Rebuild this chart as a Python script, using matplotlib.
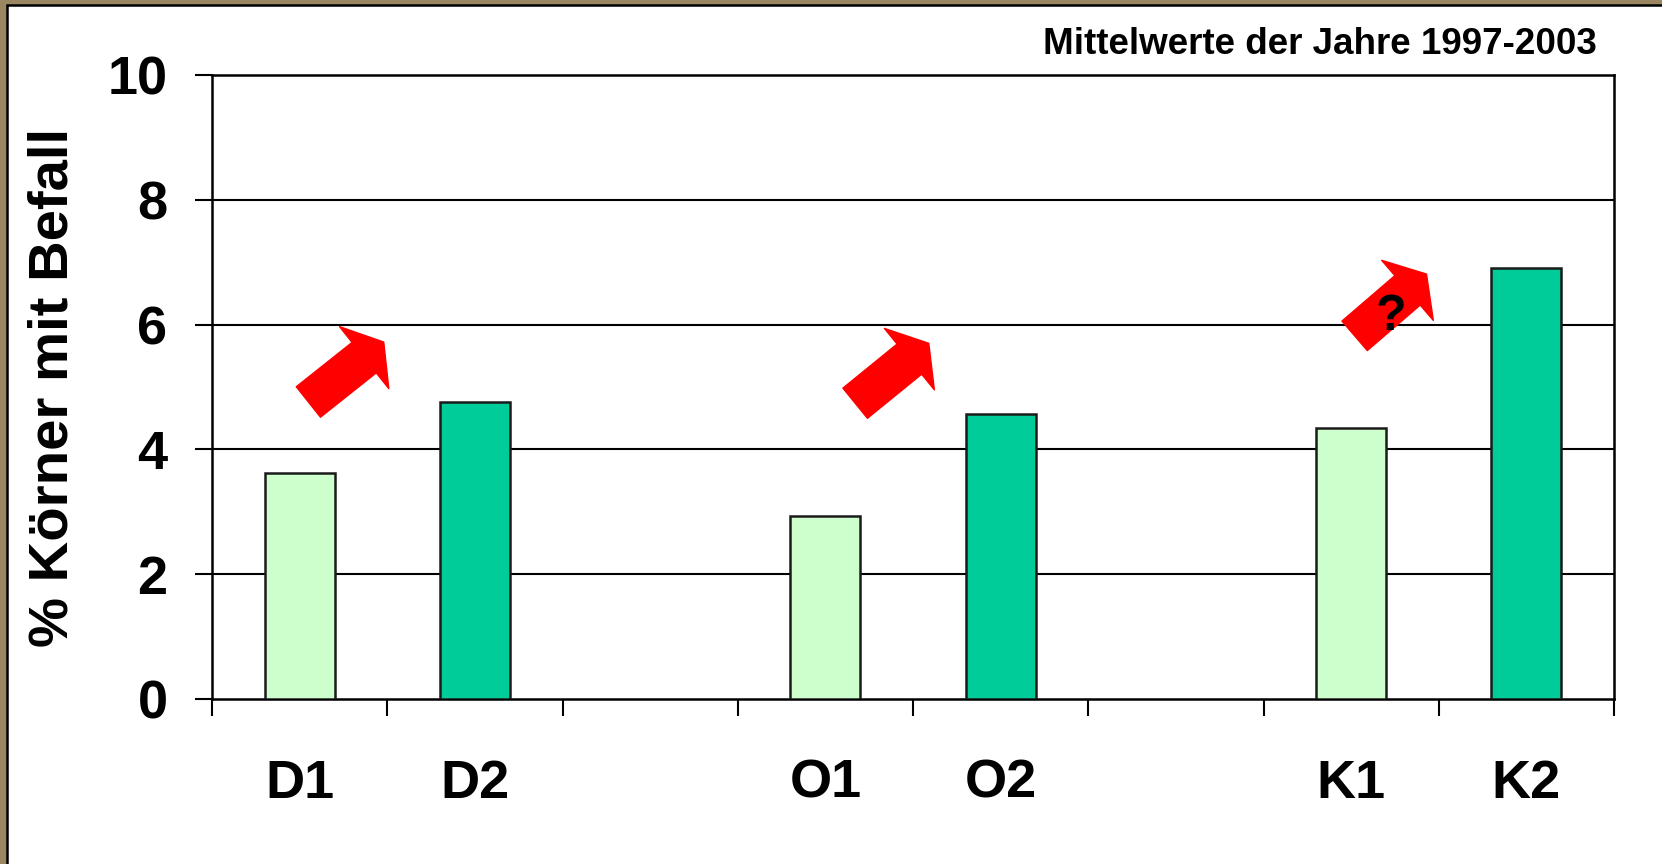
import matplotlib
matplotlib.use("Agg")
import matplotlib.pyplot as plt
from matplotlib.patches import Rectangle

plt.rcParams['font.family'] = ['Liberation Sans', 'DejaVu Sans']
plt.rcParams['font.weight'] = 'bold'

categories = ["D1", "D2", "", "O1", "O2", "", "K1", "K2"]
values = [3.62, 4.76, None, 2.93, 4.56, None, 4.35, 6.90]
bar_colors = ["#CCFFCC", "#00CC99", None, "#CCFFCC", "#00CC99", None, "#CCFFCC", "#00CC99"]
yticks = [0, 2, 4, 6, 8, 10]
title = "Mittelwerte der Jahre 1997-2003"
ylabel = "% Körner mit Befall"
# arrows: (base_x, base_y, tip_x, tip_y, label)
arrows = [(0.05, 4.76, 0.48, 5.72, ""),
          (3.17, 4.74, 3.59, 5.70, ""),
          (6.02, 5.82, 6.43, 6.81, "?")]

W, H = 1662, 864
fig = plt.figure(figsize=(W / 100, H / 100), dpi=100)
fig.patch.set_facecolor("#9A8660")
fig.patches.append(Rectangle((7 / W, -0.02), 1.05, 1.02 - 5 / H, transform=fig.transFigure,
                             facecolor="white", edgecolor="black", linewidth=1.8, zorder=-5))

ax = fig.add_axes([212 / W, 1 - 699 / H, (1614 - 212) / W, (699 - 75) / H])
ax.set_facecolor("white")
ax.set_zorder(2)

xs = list(range(len(categories)))
for x, v, c in zip(xs, values, bar_colors):
    if v is None:
        continue
    ax.bar(x, v, width=0.40, color=c, edgecolor="#1a1a1a", linewidth=1.8, zorder=3)

ax.set_xlim(-0.5, len(categories) - 0.5)
ax.set_ylim(0, 10)
ax.set_yticks(yticks)
ax.set_yticklabels([str(t) for t in yticks], fontsize=39, fontweight='bold')
ax.set_xticks(xs)
ax.set_xticklabels(categories, fontsize=39, fontweight='bold')
ax.set_xticks([x + 0.5 for x in xs[:-1]] + [-0.5, len(categories) - 0.5], minor=True)
ax.tick_params(axis='x', which='major', length=0, pad=43)
ax.tick_params(axis='x', which='minor', length=12, width=1.5, direction='out')
ax.tick_params(axis='y', length=12, width=1.5, pad=20)

for y in yticks[1:-1]:
    ax.axhline(y, color="black", linewidth=1.5, zorder=1)
for s in ax.spines.values():
    s.set_linewidth(1.8)
    s.set_color("black")

ax.set_ylabel(ylabel, fontsize=40.5, fontweight='bold', labelpad=20)

fig.text(1597 / W, 1 - 44 / H, title, ha='right', va='center', fontsize=26.5, fontweight='bold')

for bx, by, tx, ty, lab in arrows:
    ax.annotate("", xy=(tx, ty), xytext=(bx, by), xycoords='data', textcoords='data',
                arrowprops=dict(arrowstyle="simple,head_length=1.8,head_width=5.7,tail_width=2.8",
                                color="#FF0000", shrinkA=0, shrinkB=0, mutation_scale=10),
                zorder=4)
    if lab:
        ax.text((bx + tx) / 2 + 0.005, (by + ty) / 2 - 0.2, lab, ha='center', va='center',
                fontsize=36, fontweight='bold', zorder=5)

fig.savefig("out.png", dpi=100, facecolor=fig.get_facecolor())
